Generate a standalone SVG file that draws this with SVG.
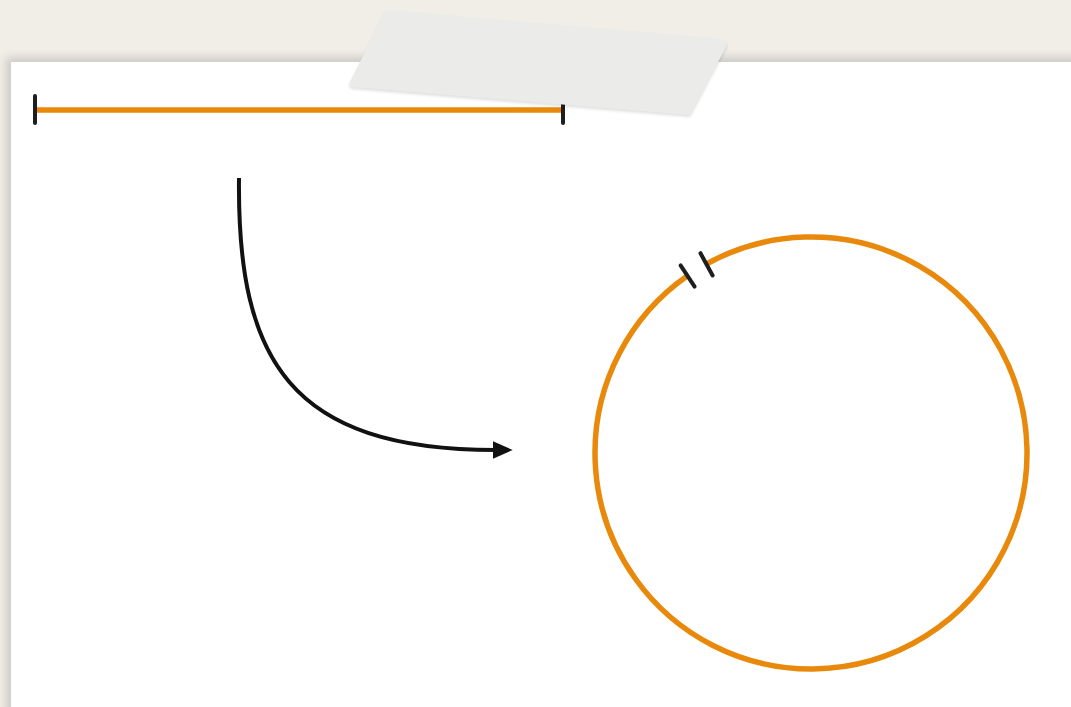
<svg xmlns="http://www.w3.org/2000/svg" width="1071" height="707" viewBox="0 0 1071 707">
  <style>
    .orange { fill: none; stroke: #e8890c; stroke-width: 5.5; stroke-linecap: butt; }
    .tick { stroke: #1e1e1e; stroke-width: 4; stroke-linecap: round; }
    .conn { fill: none; stroke: #111; stroke-width: 4; }
  </style>
  <defs>
    <marker id="arrow" markerUnits="userSpaceOnUse" markerWidth="20" markerHeight="20" viewBox="0 0 18 18" refX="3" refY="9" orient="auto">
      <path d="M0,1 L18,9 L0,17 Z" fill="#111"/>
    </marker>
    <filter id="paperShadow" x="-5%" y="-5%" width="110%" height="110%">
      <feGaussianBlur stdDeviation="4"/>
    </filter>
    <filter id="tapeShadow" x="-10%" y="-20%" width="120%" height="140%">
      <feGaussianBlur stdDeviation="1.5"/>
    </filter>
  </defs>

  <!-- background -->
  <rect x="0" y="0" width="1071" height="707" fill="#f1eee8"/>
  <!-- paper shadow -->
  <rect x="6" y="57" width="1080" height="670" fill="#000" opacity="0.14" filter="url(#paperShadow)"/>
  <!-- paper -->
  <rect id="paper" x="11" y="62" width="1070" height="660" fill="#ffffff"/>

  <!-- line segment node -->
  <g id="segment">
    <line class="orange" x1="35" y1="110" x2="563" y2="110"/>
    <line class="tick" x1="35" y1="96" x2="35" y2="123"/>
    <line class="tick" x1="563" y1="97" x2="563" y2="123"/>
  </g>

  <!-- tape -->
  <g id="tape">
    <path d="M386,12 L721,41 Q729,43 726,49 L690,117 L352,89 Q348,88 350,84 Z" fill="#000" opacity="0.12" filter="url(#tapeShadow)"/>
    <path d="M386,10 L721,39 Q729,41 726,47 L690,115 L352,87 Q348,86 350,82 Z" fill="#ebebe9"/>
  </g>

  <!-- circle node -->
  <g id="circle">
    <path class="orange" d="M706.3,264.1 A216,216 0 1 1 687.1,276.1"/>
    <line class="tick" x1="694.6" y1="286.7" x2="680.6" y2="265.4"/>
    <line class="tick" x1="712.6" y1="275.5" x2="700.5" y2="253.2"/>
  </g>

  <!-- connectors -->
  <g id="connectors">
    <path class="conn" d="M239,178 C237,360 290,450 496,450" marker-end="url(#arrow)"/>
  </g>
</svg>
